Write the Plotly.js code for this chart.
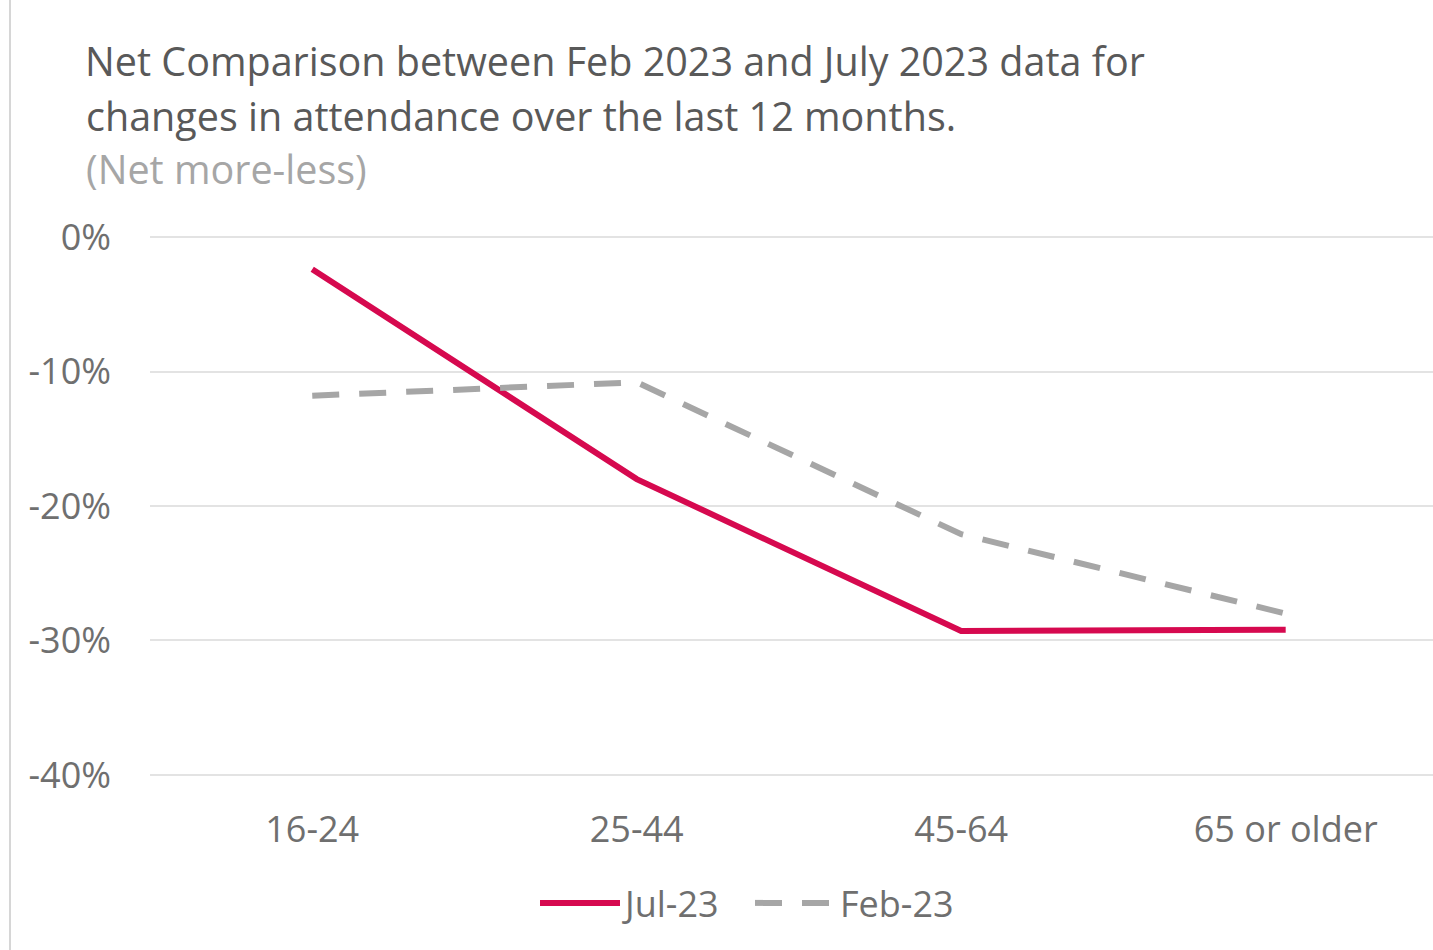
<!DOCTYPE html>
<html>
<head>
<meta charset="utf-8">
<script src="https://cdn.plot.ly/plotly-3.0.1.min.js"></script>
<style>
  html, body { margin: 0; padding: 0; background: #fff; }
  #chart { width: 1433px; height: 950px; }
</style>
</head>
<body>
<div id="chart"></div>
<script>
const categories = ["16-24", "25-44", "45-64", "65 or older"];
const jul23 = [-2.4, -18.0, -29.3, -29.2];
const feb23 = [-11.8, -10.8, -22.1, -28.0];
const yTickVals = [0, -10, -20, -30, -40];
const yTickText = ["0%", "-10%", "-20%", "-30%", "-40%"];
const titleLines = [
  "Net Comparison between Feb 2023 and July 2023 data for",
  "changes in attendance over the last 12 months.",
  "(Net more-less)"
];

const FONT = "'Open Sans', 'Noto Sans', sans-serif";

const traces = [
  {
    x: categories, y: jul23, name: "Jul-23", type: "scatter", mode: "lines",
    line: { color: "#d6094f", width: 6 },
    hoverinfo: "skip"
  },
  {
    x: categories, y: feb23, name: "Feb-23", type: "scatter", mode: "lines",
    line: { color: "#a6a6a6", width: 6, dash: "27px,20px" },
    hoverinfo: "skip"
  }
];

const L = 150, T = 233, W = 1433, H = 950, PB = 779;
const plotW = W - L, plotH = PB - T;
const px2x = p => (p - L) / plotW;
const py2y = p => (PB - p) / plotH;

const layout = {
  width: W, height: H,
  margin: { l: L, r: 0, t: T, b: H - PB },
  paper_bgcolor: "#ffffff",
  plot_bgcolor: "#ffffff",
  font: { family: FONT, color: "#6f6f6f", size: 36 },
  title: {
    text: titleLines[0],
    xref: "container", yref: "container",
    x: 85 / W, xanchor: "left",
    y: 1 - 62 / H, yanchor: "middle",
    font: { family: FONT, size: 39.5, color: "#595959" }
  },
  annotations: [
    {
      text: titleLines[1], xref: "paper", yref: "paper",
      x: px2x(85), xanchor: "left", y: py2y(116), yanchor: "middle",
      showarrow: false, borderpad: 0,
      font: { family: FONT, size: 39.5, color: "#595959" }
    },
    {
      text: titleLines[2], xref: "paper", yref: "paper",
      x: px2x(85), xanchor: "left", y: py2y(169), yanchor: "middle",
      showarrow: false, borderpad: 0,
      font: { family: FONT, size: 39.5, color: "#a6a6a6" }
    }
  ],
  shapes: [
    {
      type: "line", xref: "paper", yref: "paper",
      x0: px2x(10), x1: px2x(10), y0: py2y(950), y1: py2y(0),
      line: { color: "#c8c8c8", width: 1.5 }
    }
  ],
  xaxis: {
    type: "category",
    range: [-0.5, 3.454],
    showgrid: false, zeroline: false, showline: false,
    ticks: "",
    ticklabelstandoff: 26,
    tickfont: { family: FONT, size: 36, color: "#6f6f6f" },
    fixedrange: true
  },
  yaxis: {
    range: [-40.3, 0.3],
    tickvals: yTickVals, ticktext: yTickText,
    showgrid: true, gridcolor: "#e3e3e3", gridwidth: 2,
    zeroline: false, showline: false,
    ticks: "",
    ticklabelstandoff: 38,
    tickfont: { family: FONT, size: 36, color: "#6f6f6f" },
    fixedrange: true
  },
  showlegend: true,
  legend: {
    orientation: "h",
    x: px2x(750), xanchor: "center",
    y: py2y(903), yanchor: "middle",
    font: { family: FONT, size: 36, color: "#6f6f6f" },
    itemwidth: 80,
    entrywidth: 120,
    tracegroupgap: 0,
    bgcolor: "rgba(0,0,0,0)"
  }
};

Plotly.newPlot("chart", traces, layout, { displayModeBar: false, staticPlot: true });
</script>
</body>
</html>
